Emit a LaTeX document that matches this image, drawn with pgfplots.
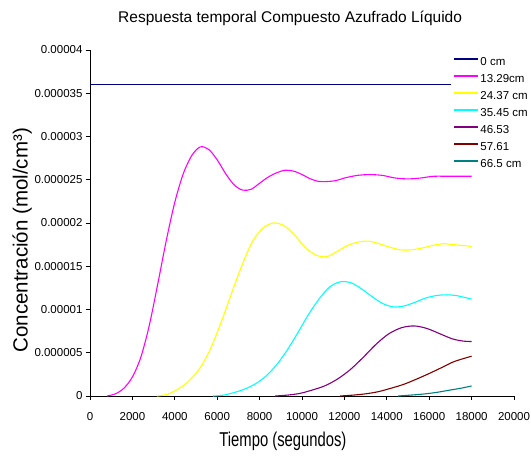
\documentclass[border=0pt]{standalone}
\usepackage{pgfplots}
\pgfplotsset{compat=1.18}
\usepackage{graphicx}
\usepackage{fontspec}
\setmainfont{Liberation Sans}
\definecolor{cnavy}{RGB}{0,0,128}
\definecolor{cmag}{RGB}{255,0,255}
\definecolor{cyel}{RGB}{255,255,0}
\definecolor{ccya}{RGB}{0,255,255}
\definecolor{cpur}{RGB}{128,0,128}
\definecolor{cred}{RGB}{128,0,0}
\definecolor{cteal}{RGB}{0,128,128}
\begin{document}
\begin{tikzpicture}
\useasboundingbox (0,0) rectangle (531pt,459pt);
\begin{axis}[
  at={(90pt,63pt)}, anchor=south west,
  scale only axis, width=424pt, height=346pt,
  xmin=0, xmax=20000, ymin=0, ymax=0.00004,
  axis lines=left, axis line style={-, black, line width=0.8pt},
  tick align=outside, major tick length=4pt,
  tick style={black, line width=0.8pt},
  xtick={0,2000,4000,6000,8000,10000,12000,14000,16000,18000,20000},
  xticklabels={0,2000,4000,6000,8000,10000,12000,14000,16000,18000,20000},
  ytick={0,0.000005,0.00001,0.000015,0.00002,0.000025,0.00003,0.000035,0.00004},
  yticklabels={0,0.000005,0.00001,0.000015,0.00002,0.000025,0.00003,0.000035,0.00004},
  scaled y ticks=false, scaled x ticks=false,
  /pgf/number format/assume math mode=true,
  ticklabel style={font=\fontsize{11.5}{13}\selectfont},
  xticklabel style={yshift=-9pt},
  title={Respuesta temporal Compuesto Azufrado Líquido},
  title style={font=\fontsize{15.5}{18}\selectfont, at={(axis description cs:0.472,1.075)}, anchor=center},
  xlabel={\scalebox{0.74}[1]{Tiempo (segundos)}},
  xlabel style={font=\fontsize{20}{23}\selectfont, at={(axis description cs:0.455,-0.13)}, anchor=center},
  ylabel={Concentración (mol/cm³)},
  ylabel style={font=\fontsize{20.5}{23}\selectfont, at={(axis description cs:-0.160,0.45)}, anchor=center, rotate=0},
  legend style={at={(axis description cs:0.852,0.988)}, anchor=north west, draw=none, fill=white,
    font=\fontsize{11.5}{13}\selectfont, row sep=4pt, inner sep=2pt,
    nodes={inner sep=1pt, text height=8.5pt, text depth=2.5pt}},
  legend cell align=left,
  legend image code/.code={\draw[#1] (0pt,3.5pt) -- (24pt,3.5pt);},
  legend image post style={line width=2pt},
  every axis plot/.append style={line width=1.1pt, no marks},
]
\addplot[color=cnavy] coordinates {(0,0.0000360) (18000,0.0000360)};
\addlegendentry{0 cm}
\addplot[color=cmag, smooth] coordinates {
(800,0) (1200,2.5e-7) (1600,9e-7) (2000,2.2e-6) (2400,4.5e-6) (2800,8.2e-6) (3200,1.30e-5)
(3600,1.80e-5) (4000,2.24e-5) (4400,2.57e-5) (4800,2.78e-5) (5200,2.88e-5) (5600,2.85e-5)
(6000,2.73e-5) (6400,2.57e-5) (6800,2.44e-5) (7200,2.38e-5) (7600,2.39e-5) (8000,2.46e-5)
(8400,2.53e-5) (8800,2.58e-5) (9200,2.61e-5) (9600,2.60e-5) (10000,2.56e-5) (10400,2.51e-5)
(10800,2.48e-5) (11200,2.48e-5) (11600,2.49e-5) (12000,2.52e-5) (12600,2.55e-5) (13200,2.56e-5)
(13800,2.55e-5) (14400,2.52e-5) (15000,2.51e-5) (15600,2.52e-5) (16200,2.54e-5) (17000,2.54e-5)
(18000,2.54e-5)};
\addlegendentry{13.29cm}
\addplot[color=cyel, smooth] coordinates {
(3150,0) (3650,2e-7) (4150,8e-7) (4650,1.7e-6) (5150,3.1e-6) (5650,5.3e-6) (6150,8.3e-6)
(6650,1.17e-5) (7150,1.50e-5) (7650,1.78e-5) (8150,1.94e-5) (8650,2.00e-5) (9150,1.97e-5)
(9650,1.86e-5) (10150,1.72e-5) (10650,1.63e-5) (11150,1.61e-5) (11650,1.67e-5) (12150,1.74e-5)
(12650,1.78e-5) (13150,1.79e-5) (13650,1.76e-5) (14150,1.72e-5) (14650,1.69e-5) (15150,1.69e-5)
(15650,1.71e-5) (16150,1.74e-5) (16650,1.76e-5) (17150,1.75e-5) (18000,1.73e-5)};
\addlegendentry{24.37 cm}
\addplot[color=ccya, smooth] coordinates {
(5800,0) (6300,1e-7) (6800,4e-7) (7300,8e-7) (7800,1.4e-6) (8300,2.3e-6) (8800,3.6e-6)
(9300,5.3e-6) (9800,7.3e-6) (10300,9.4e-6) (10800,1.12e-5) (11300,1.26e-5) (11800,1.32e-5)
(12300,1.31e-5) (12800,1.24e-5) (13300,1.15e-5) (13800,1.07e-5) (14300,1.03e-5) (14800,1.04e-5)
(15300,1.08e-5) (15800,1.13e-5) (16300,1.16e-5) (16800,1.17e-5) (17300,1.16e-5) (18000,1.12e-5)};
\addlegendentry{35.45 cm}
\addplot[color=cpur, smooth] coordinates {
(8730,0) (9300,1e-7) (9900,3e-7) (10500,7e-7) (11100,1.2e-6) (11700,2.0e-6) (12300,3.1e-6)
(12900,4.5e-6) (13500,6.0e-6) (14100,7.2e-6) (14700,7.9e-6) (15300,8.1e-6) (15900,7.8e-6)
(16500,7.2e-6) (17100,6.6e-6) (17600,6.35e-6) (18000,6.3e-6)};
\addlegendentry{46.53}
\addplot[color=cred, smooth] coordinates {
(11800,0) (12400,1e-7) (13000,2.5e-7) (13600,5e-7) (14200,9e-7) (14800,1.35e-6) (15400,1.95e-6)
(16000,2.6e-6) (16600,3.3e-6) (17200,4.0e-6) (18000,4.6e-6)};
\addlegendentry{57.61}
\addplot[color=cteal, smooth] coordinates {
(14530,0) (15100,1e-7) (15700,2.2e-7) (16300,4e-7) (16900,6.5e-7) (17500,9e-7) (18000,1.16e-6)};
\addlegendentry{66.5 cm}
\end{axis}
\end{tikzpicture}
\end{document}
